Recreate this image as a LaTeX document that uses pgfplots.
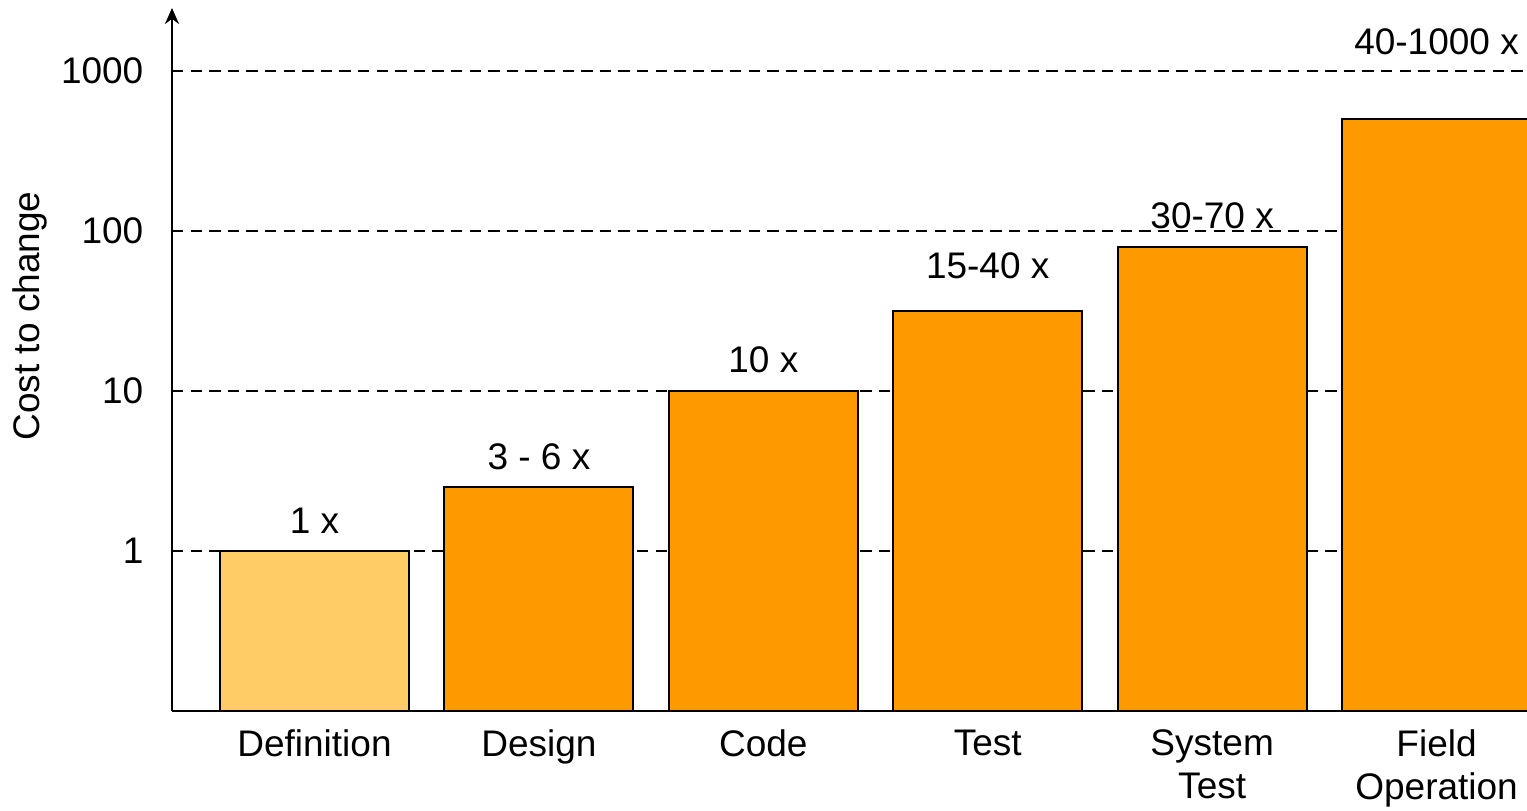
\documentclass[border=0pt]{standalone}
\usepackage{fontspec}
\setmainfont{Liberation Sans}
\usepackage{pgfplots}
\pgfplotsset{compat=1.18}
\usetikzlibrary{arrows.meta}
\definecolor{lightbar}{HTML}{FFCC66}
\definecolor{orangebar}{HTML}{FF9900}
\newcommand{\chartfont}{\fontsize{18.5}{21.5}\selectfont}
\begin{document}
\begin{tikzpicture}[font=\chartfont]
\begin{axis}[
  scale only axis,
  width=677.5pt, height=351.5pt,
  ymode=log, log origin=infty,
  xmin=-0.635, xmax=5.403,
  ymin=0.1, ymax=2477,
  axis lines=left,
  axis line style={line width=1.3pt},
  x axis line style={-},
  y axis line style={-{Stealth[length=8pt,width=7pt]}},
  ytick={1,10,100,1000},
  yticklabels={1,10,100,1000},
  yminorticks=false,
  xtick={0,1,2,3,4,5},
  xticklabels={Definition,Design,Code,Test,System\\Test,Field\\Operation},
  tick style={draw=none},
  ymajorgrids,
  grid style={black, line width=1pt, dash pattern=on 5.7pt off 3.6pt},
  tick label style={font=\chartfont},
  yticklabel style={inner xsep=0pt, xshift=-12pt},
  xticklabel style={inner ysep=0pt, yshift=-7pt, align=center},
  ylabel={Cost to change},
  label style={font=\chartfont},
  ylabel style={at={(axis description cs:-0.1052,0.562)}, anchor=center},
]
\addplot[ybar, bar width=94.5pt, bar shift=0pt, fill=lightbar, draw=black, line width=1pt]
  coordinates {(0,1)};
\addplot[ybar, bar width=94.5pt, bar shift=0pt, fill=orangebar, draw=black, line width=1pt]
  coordinates {(1,2.5) (2,10) (3,31.6) (4,80) (5,500)};
\node at (axis cs:0,1.54) {1 x};
\node at (axis cs:1,3.87) {3 - 6 x};
\node at (axis cs:2,15.6) {10 x};
\node at (axis cs:3,60.4) {15-40 x};
\node at (axis cs:4,124) {30-70 x};
\node at (axis cs:5,1518) {40-1000 x};
\end{axis}
\pgfresetboundingbox
\path[use as bounding box] (current axis.south west) ++(-86pt,-49.5pt) rectangle ++(763.5pt,405pt);
\end{tikzpicture}
\end{document}
